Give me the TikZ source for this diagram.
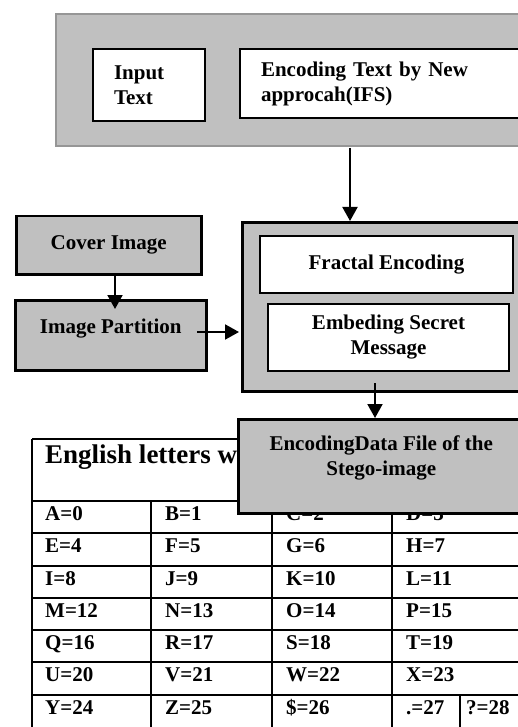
\documentclass[tikz,border=0pt]{standalone}
\usepackage{fontspec}
\setmainfont{Liberation Serif}
\usetikzlibrary{arrows.meta}
\definecolor{boxgray}{RGB}{192,192,192}
\definecolor{edgegray}{RGB}{150,150,150}
\begin{document}
\begin{tikzpicture}[x=1pt,y=-1pt,
  every node/.style={font=\fontsize{21}{25}\selectfont\bfseries},
  topbox/.style={draw=edgegray, line width=2pt, fill=boxgray, anchor=north west, inner sep=0pt},
  graybox/.style={draw=black, line width=2.5pt, fill=boxgray, anchor=north west, inner sep=0pt},
  whitebox/.style={draw=black, line width=2pt, fill=white, anchor=north west, inner sep=0pt},
  arr/.style={line width=2pt, -{Triangle[width=15pt,length=14pt]}},
  gridline/.style={line width=2pt},
  cell/.style={anchor=base west, inner sep=0pt}]
\useasboundingbox (0,0) rectangle (518,727);
\clip (0,0) rectangle (518,727);

% top group
\node[topbox, minimum width=475, minimum height=132] (top) at (55,13) {};
\node[whitebox, minimum width=112, minimum height=72, text width=70, align=left] (input) at (92,48) {Input\\Text};
\node[whitebox, minimum width=292, minimum height=69, text width=250, align=left] (enc) at (239,48) {Encoding Text by New\\approcah(IFS)};

% left boxes
\node[graybox, minimum width=185, minimum height=58] (cover) at (15,215) {Cover Image};
\node[graybox, minimum width=191, minimum height=70, text height=15pt, text depth=18pt] (part) at (14,299) {Image Partition};

% big box
\node[graybox, minimum width=289, minimum height=169] (big) at (241,221) {};
\node[whitebox, minimum width=253, minimum height=57] (frac) at (259,235) {Fractal Encoding};
\node[whitebox, minimum width=241, minimum height=67, align=center] (emb) at (267,303) {Embeding Secret\\Message};

% table
\draw[gridline] (32,439) -- (530,439);
\draw[gridline] (32,439) -- (32,730);
\foreach \y in {501,533,566,598,630,662,695}
  \draw[gridline] (32,\y) -- (530,\y);
\foreach \x in {151,272,392}
  \draw[gridline] (\x,501) -- (\x,730);
\draw[gridline] (460,695) -- (460,730);
\node[cell, font=\fontsize{27}{30}\selectfont\bfseries] (hdr) at (45,463) {English letters with};
\foreach \y/\a/\b/\c/\d in {501/A=0/B=1/C=2/D=3, 533/E=4/F=5/G=6/H=7, 566/I=8/J=9/K=10/L=11,
    598/M=12/N=13/O=14/P=15, 630/Q=16/R=17/S=18/T=19, 662/U=20/V=21/W=22/X=23}{
  \node[cell] (c\y a) at (45,\y+19) {\a};
  \node[cell] (c\y b) at (165,\y+19) {\b};
  \node[cell] (c\y c) at (286,\y+19) {\c};
  \node[cell] (c\y d) at (406,\y+19) {\d};
}
\node[cell] (y1) at (45,714) {Y=24};
\node[cell] (y2) at (165,714) {Z=25};
\node[cell] (y3) at (286,714) {\$=26};
\node[cell] (y4) at (406,714) {.=27};
\node[cell] (y5) at (466,714) {?=28};

% stego box
\node[graybox, minimum width=286, minimum height=94, align=center, text depth=22pt] (stego) at (237,418) {EncodingData File of the\\Stego-image};

% arrows
\coordinate (a1) at (350,148);
\draw[arr] (a1) -- (a1 |- big.north);
\coordinate (a2) at (115,309);
\draw[arr] (cover.south -| a2) -- (a2);
\coordinate (a3) at (197,332);
\draw[arr, shorten >=2pt] (a3) -- (a3 -| big.west);
\coordinate (a4) at (375,383);
\draw[arr] (a4) -- (a4 |- stego.north);
\end{tikzpicture}
\end{document}
